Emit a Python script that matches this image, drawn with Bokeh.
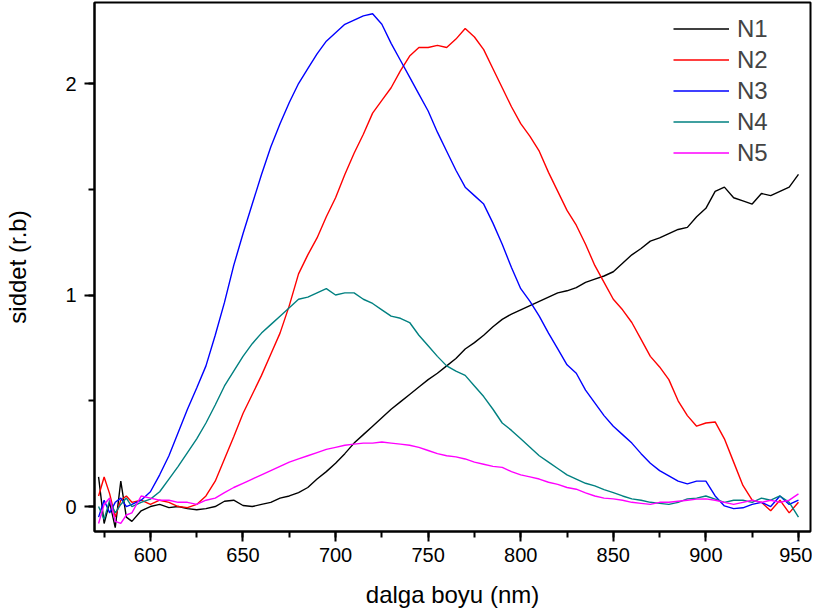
from bokeh.plotting import figure
from bokeh.models import Range1d, SingleIntervalTicker, Legend, LegendItem
from bokeh.embed import file_html
from bokeh.resources import INLINE

wavelength = [572, 575, 578, 581, 584, 587, 590,
              595, 600, 605, 610, 615, 620, 625, 630, 635, 640, 645, 650,
              655, 660, 665, 670, 675, 680, 685, 690, 695, 700, 705, 710,
              715, 720, 725, 730, 735, 740, 745, 750, 755, 760, 765, 770,
              775, 780, 785, 790, 795, 800, 805, 810, 815, 820, 825, 830,
              835, 840, 845, 850, 855, 860, 865, 870, 875, 880, 885, 890,
              895, 900, 905, 910, 915, 920, 925, 930, 935, 940, 945, 950]

n1 = [0.14, -0.08, 0.02, -0.10, 0.12, -0.05, -0.07,
      -0.02, 0.0, 0.01, -0.005, 0.0, -0.01, -0.015, -0.01, 0.0, 0.025, 0.03, 0.005,
      0.0, 0.01, 0.02, 0.04, 0.05, 0.066, 0.09, 0.13, 0.165, 0.205, 0.25, 0.30,
      0.34, 0.38, 0.42, 0.46, 0.495, 0.53, 0.565, 0.60, 0.63, 0.665, 0.70, 0.745,
      0.775, 0.81, 0.85, 0.885, 0.91, 0.93, 0.95, 0.97, 0.99, 1.01, 1.02, 1.035,
      1.06, 1.075, 1.09, 1.11, 1.15, 1.19, 1.22, 1.255, 1.27, 1.29, 1.31, 1.32,
      1.37, 1.41, 1.49, 1.51, 1.46, 1.445, 1.43, 1.48, 1.47, 1.49, 1.51, 1.57]

n2 = [0.05, 0.14, 0.06, -0.05, 0.03, 0.05, 0.02,
      0.03, 0.01, 0.03, 0.02, 0.0, -0.005, 0.01, 0.05, 0.12, 0.225, 0.33, 0.44,
      0.53, 0.62, 0.72, 0.82, 0.95, 1.10, 1.19, 1.27, 1.37, 1.46, 1.57, 1.67,
      1.76, 1.86, 1.92, 1.98, 2.06, 2.13, 2.17, 2.17, 2.18, 2.17, 2.21, 2.26,
      2.22, 2.16, 2.07, 1.98, 1.89, 1.81, 1.75, 1.68, 1.58, 1.49, 1.40, 1.33,
      1.24, 1.14, 1.06, 0.98, 0.93, 0.87, 0.79, 0.71, 0.66, 0.60, 0.50, 0.43,
      0.38, 0.395, 0.40, 0.32, 0.21, 0.10, 0.03, 0.02, -0.02, 0.03, -0.03, 0.02]

n3 = [-0.05, 0.03, -0.03, 0.02, 0.04, 0.0, 0.01,
      0.03, 0.07, 0.15, 0.24, 0.35, 0.46, 0.56, 0.665, 0.81, 0.965, 1.14, 1.29,
      1.43, 1.57, 1.70, 1.81, 1.91, 2.0, 2.07, 2.14, 2.20, 2.24, 2.28, 2.30,
      2.32, 2.33, 2.28, 2.19, 2.11, 2.03, 1.95, 1.87, 1.77, 1.68, 1.59, 1.51,
      1.47, 1.43, 1.34, 1.24, 1.13, 1.03, 0.97, 0.90, 0.82, 0.745, 0.67, 0.63,
      0.55, 0.49, 0.43, 0.38, 0.34, 0.30, 0.25, 0.205, 0.17, 0.145, 0.12, 0.107,
      0.12, 0.12, 0.05, 0.003, -0.01, -0.006, 0.01, 0.02, 0.0, 0.05, 0.01, 0.03]

n4 = [0.0, -0.06, 0.03, -0.03, 0.01, 0.04, 0.0,
      0.02, 0.035, 0.07, 0.13, 0.19, 0.255, 0.32, 0.395, 0.48, 0.57, 0.64, 0.71,
      0.77, 0.82, 0.86, 0.90, 0.94, 0.98, 0.99, 1.01, 1.03, 1.0, 1.01, 1.01,
      0.98, 0.96, 0.93, 0.90, 0.89, 0.87, 0.81, 0.76, 0.71, 0.665, 0.64, 0.62,
      0.57, 0.52, 0.46, 0.395, 0.36, 0.32, 0.28, 0.24, 0.21, 0.18, 0.15, 0.13,
      0.11, 0.098, 0.08, 0.066, 0.05, 0.036, 0.03, 0.02, 0.015, 0.01, 0.02, 0.036,
      0.04, 0.05, 0.035, 0.02, 0.03, 0.03, 0.02, 0.04, 0.03, 0.05, 0.02, -0.05]

n5 = [-0.08, 0.01, 0.04, -0.07, -0.08, -0.04, -0.03,
      0.05, 0.04, 0.03, 0.03, 0.02, 0.02, 0.01, 0.03, 0.04, 0.066, 0.09, 0.11,
      0.13, 0.15, 0.17, 0.19, 0.21, 0.225, 0.24, 0.255, 0.27, 0.28, 0.29, 0.295,
      0.30, 0.30, 0.305, 0.30, 0.295, 0.29, 0.28, 0.265, 0.25, 0.24, 0.235, 0.225,
      0.21, 0.20, 0.19, 0.185, 0.165, 0.15, 0.14, 0.13, 0.115, 0.105, 0.09, 0.082,
      0.065, 0.05, 0.04, 0.036, 0.03, 0.02, 0.015, 0.01, 0.02, 0.02, 0.025, 0.03,
      0.035, 0.036, 0.03, 0.02, 0.01, 0.02, 0.03, 0.02, 0.03, 0.02, 0.03, 0.06]

series_names = ["N1", "N2", "N3", "N4", "N5"]
series_colors = ["#000000", "#ff0000", "#0000ff", "#008080", "#ff00ff"]
series_values = [n1, n2, n3, n4, n5]

x_ticks_interval = 50
y_ticks_interval = 1

FONT = "Liberation Sans"

p = figure(
    frame_width=716, frame_height=529,
    min_border_left=94, min_border_right=2, min_border_top=2, min_border_bottom=78,
    x_range=Range1d(569.8, 956.5), y_range=Range1d(-0.118, 2.383),
    output_backend="svg", toolbar_location=None,
)
p.xgrid.visible = False
p.ygrid.visible = False
p.outline_line_color = "black"
p.outline_line_width = 2
p.background_fill_color = "white"
p.border_fill_color = "white"

renderers = []
for name, col, vals in zip(series_names, series_colors, series_values):
    r = p.line(wavelength, vals, line_color=col, line_width=1.4)
    renderers.append(r)

legend = Legend(
    items=[LegendItem(label=n, renderers=[r]) for n, r in zip(series_names, renderers)],
    location=(579, 363),
    orientation="vertical",
    border_line_color=None,
    background_fill_alpha=0,
    padding=0, margin=0, spacing=0,
    glyph_width=56, glyph_height=31, label_height=31,
    label_standoff=8,
    label_text_font=FONT, label_text_font_size="24px",
    label_text_line_height=1.0,
    label_text_baseline="middle",
)
p.add_layout(legend, "center")

for ax in (p.xaxis[0], p.yaxis[0]):
    ax.axis_line_width = 2
    ax.major_tick_line_width = 2
    ax.minor_tick_line_width = 2
    ax.major_tick_out = 10
    ax.major_tick_in = 0
    ax.minor_tick_out = 6
    ax.minor_tick_in = 0
    ax.major_label_text_font = FONT
    ax.major_label_text_font_size = "20px"
    ax.major_label_text_color = "black"
    ax.axis_label_text_font = FONT
    ax.axis_label_text_font_size = "24px"
    ax.axis_label_text_font_style = "normal"
    ax.axis_label_text_color = "black"

p.xaxis.ticker = SingleIntervalTicker(interval=x_ticks_interval, num_minor_ticks=2)
p.yaxis.ticker = SingleIntervalTicker(interval=y_ticks_interval, num_minor_ticks=2)
p.xaxis.axis_label = "dalga boyu (nm)"
p.yaxis.axis_label = "siddet (r.b)"
p.xaxis.major_label_standoff = 6
p.yaxis.major_label_standoff = 8
p.xaxis.axis_label_standoff = 16
p.yaxis.axis_label_standoff = 31

open("out.html", "w").write(file_html(p, INLINE))
